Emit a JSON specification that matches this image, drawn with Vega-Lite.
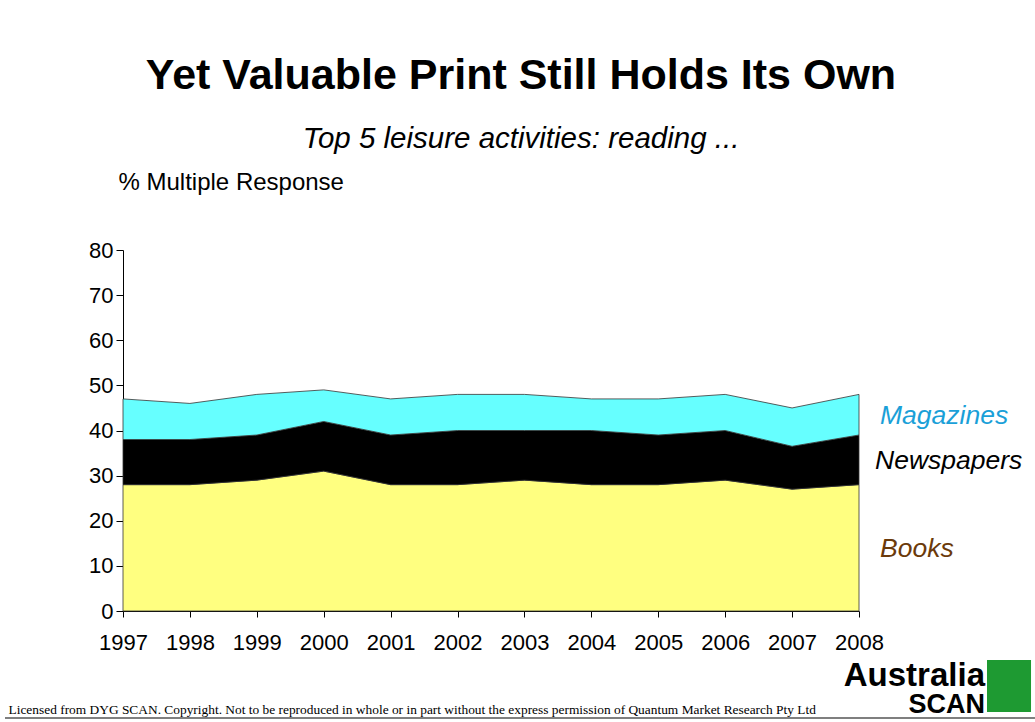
{
  "$schema": "https://vega.github.io/schema/vega-lite/v6.json",
  "autosize": "none",
  "width": 736,
  "height": 361,
  "padding": {"left": 123, "top": 250, "right": 176, "bottom": 111},
  "background": "white",
  "config": {
    "view": {"stroke": null},
    "font": "Liberation Sans"
  },
  "title": {
    "text": "Yet Valuable Print Still Holds Its Own",
    "subtitle": "Top 5 leisure activities: reading ...",
    "anchor": "middle",
    "font": "Liberation Sans",
    "fontSize": 43,
    "fontWeight": "bold",
    "color": "#000000",
    "subtitleFont": "Liberation Sans",
    "subtitleFontSize": 29.5,
    "subtitleFontStyle": "italic",
    "subtitleColor": "#000000",
    "subtitlePadding": 27,
    "dx": 30,
    "offset": 17
  },
  "data": {
    "values": [
      {"year": 1997, "series": "Books", "order": 1, "value": 28},
      {"year": 1998, "series": "Books", "order": 1, "value": 28},
      {"year": 1999, "series": "Books", "order": 1, "value": 29},
      {"year": 2000, "series": "Books", "order": 1, "value": 31},
      {"year": 2001, "series": "Books", "order": 1, "value": 28},
      {"year": 2002, "series": "Books", "order": 1, "value": 28},
      {"year": 2003, "series": "Books", "order": 1, "value": 29},
      {"year": 2004, "series": "Books", "order": 1, "value": 28},
      {"year": 2005, "series": "Books", "order": 1, "value": 28},
      {"year": 2006, "series": "Books", "order": 1, "value": 29},
      {"year": 2007, "series": "Books", "order": 1, "value": 27},
      {"year": 2008, "series": "Books", "order": 1, "value": 28},
      {"year": 1997, "series": "Newspapers", "order": 2, "value": 10},
      {"year": 1998, "series": "Newspapers", "order": 2, "value": 10},
      {"year": 1999, "series": "Newspapers", "order": 2, "value": 10},
      {"year": 2000, "series": "Newspapers", "order": 2, "value": 11},
      {"year": 2001, "series": "Newspapers", "order": 2, "value": 11},
      {"year": 2002, "series": "Newspapers", "order": 2, "value": 12},
      {"year": 2003, "series": "Newspapers", "order": 2, "value": 11},
      {"year": 2004, "series": "Newspapers", "order": 2, "value": 12},
      {"year": 2005, "series": "Newspapers", "order": 2, "value": 11},
      {"year": 2006, "series": "Newspapers", "order": 2, "value": 11},
      {"year": 2007, "series": "Newspapers", "order": 2, "value": 9.5},
      {"year": 2008, "series": "Newspapers", "order": 2, "value": 11},
      {"year": 1997, "series": "Magazines", "order": 3, "value": 9},
      {"year": 1998, "series": "Magazines", "order": 3, "value": 8},
      {"year": 1999, "series": "Magazines", "order": 3, "value": 9},
      {"year": 2000, "series": "Magazines", "order": 3, "value": 7},
      {"year": 2001, "series": "Magazines", "order": 3, "value": 8},
      {"year": 2002, "series": "Magazines", "order": 3, "value": 8},
      {"year": 2003, "series": "Magazines", "order": 3, "value": 8},
      {"year": 2004, "series": "Magazines", "order": 3, "value": 7},
      {"year": 2005, "series": "Magazines", "order": 3, "value": 8},
      {"year": 2006, "series": "Magazines", "order": 3, "value": 8},
      {"year": 2007, "series": "Magazines", "order": 3, "value": 8.5},
      {"year": 2008, "series": "Magazines", "order": 3, "value": 9}
    ]
  },
  "layer": [
    {
      "mark": {"type": "area", "stroke": "#333333", "strokeWidth": 0.8},
      "encoding": {
        "x": {
          "field": "year",
          "type": "quantitative",
          "scale": {"domain": [1997, 2008], "nice": false, "zero": false},
          "axis": {
            "values": [1997, 1998, 1999, 2000, 2001, 2002, 2003, 2004, 2005, 2006, 2007, 2008],
            "format": "d",
            "grid": false,
            "domainColor": "#000000",
            "tickColor": "#000000",
            "tickSize": 6,
            "labelFont": "Liberation Sans",
            "labelFontSize": 22,
            "labelColor": "#000000",
            "labelPadding": 15,
            "labelFlush": false,
            "labelOverlap": false,
            "title": "Licensed from DYG SCAN. Copyright. Not to be reproduced in whole or in part without the express permission of Quantum Market Research Pty Ltd",
            "titleFont": "Liberation Serif",
            "titleFontSize": 13.4,
            "titleFontWeight": "normal",
            "titleColor": "#000000",
            "titleAlign": "left",
            "titleAnchor": "start",
            "titleBaseline": "alphabetic",
            "titleX": -115,
            "titleY": 102
          }
        },
        "y": {
          "field": "value",
          "type": "quantitative",
          "stack": "zero",
          "scale": {"domain": [0, 80], "nice": false},
          "axis": {
            "values": [0, 5, 10, 15, 20, 25, 30, 35, 40, 45, 50, 55, 60, 65, 70, 75, 80],
            "labelExpr": "datum.value % 10 === 0 ? datum.label : ''",
            "grid": false,
            "domainColor": "#000000",
            "tickColor": "#000000",
            "tickSize": 7,
            "labelFont": "Liberation Sans",
            "labelFontSize": 22,
            "labelColor": "#000000",
            "labelPadding": 3,
            "labelFlush": false,
            "title": "% Multiple Response",
            "titleFont": "Liberation Sans",
            "titleFontSize": 24,
            "titleFontWeight": "normal",
            "titleColor": "#000000",
            "titleAngle": 0,
            "titleAlign": "left",
            "titleBaseline": "alphabetic",
            "titleX": -5,
            "titleY": -61
          }
        },
        "color": {
          "field": "series",
          "type": "nominal",
          "scale": {"domain": ["Books", "Newspapers", "Magazines"], "range": ["#FFFF80", "#000000", "#66FFFF"]},
          "legend": null
        },
        "order": {"field": "order", "type": "quantitative"}
      }
    },
    {
      "transform": [
        {"filter": "datum.year === 2008"},
        {"window": [{"op": "sum", "field": "value", "as": "cum"}], "sort": [{"field": "order", "order": "ascending"}]},
        {"calculate": "datum.cum - datum.value / 2", "as": "mid"}
      ],
      "mark": {
        "type": "text",
        "align": "left",
        "baseline": "middle",
        "font": "Liberation Sans",
        "fontSize": 26.5,
        "fontStyle": "italic",
        "dx": {"expr": "datum.series === 'Newspapers' ? 16 : 21"},
        "dy": 1
      },
      "encoding": {
        "x": {"field": "year", "type": "quantitative"},
        "y": {"field": "mid", "type": "quantitative"},
        "text": {"field": "series"},
        "color": {
          "field": "series",
          "type": "nominal",
          "scale": {"domain": ["Books", "Newspapers", "Magazines"], "range": ["#6B3A0A", "#000000", "#1AA0D8"]},
          "legend": null
        }
      }
    },
    {
      "data": {"values": [{"logo": "Australia"}]},
      "mark": {"type": "rect", "color": "#1E9A32"},
      "encoding": {
        "x": {"datum": 2009.913, "type": "quantitative"},
        "x2": {"datum": 2010.571},
        "y": {"datum": -10.86, "type": "quantitative"},
        "y2": {"datum": -22.38}
      }
    },
    {
      "data": {"values": [{"logo": "Australia", "line1": "Australia", "line2": "SCAN"}]},
      "layer": [
        {
          "mark": {"type": "text", "align": "right", "baseline": "alphabetic", "font": "Liberation Sans", "fontWeight": "bold", "fontSize": 33, "color": "#000000"},
          "encoding": {
            "x": {"datum": 2009.883, "type": "quantitative"},
            "y": {"datum": -16.6, "type": "quantitative"},
            "text": {"field": "line1"}
          }
        },
        {
          "mark": {"type": "text", "align": "right", "baseline": "alphabetic", "font": "Liberation Sans", "fontWeight": "bold", "fontSize": 27, "color": "#000000"},
          "encoding": {
            "x": {"datum": 2009.883, "type": "quantitative"},
            "y": {"datum": -22.6, "type": "quantitative"},
            "text": {"field": "line2"}
          }
        }
      ]
    },
    {
      "data": {"values": [{"edge": "frame"}]},
      "mark": {"type": "rule", "color": "#555555", "strokeWidth": 1.5},
      "encoding": {
        "x": {"datum": 1995.236, "type": "quantitative"},
        "x2": {"datum": 2010.63},
        "y": {"datum": -23.71, "type": "quantitative"}
      }
    }
  ],
  "resolve": {"scale": {"color": "independent"}}
}
